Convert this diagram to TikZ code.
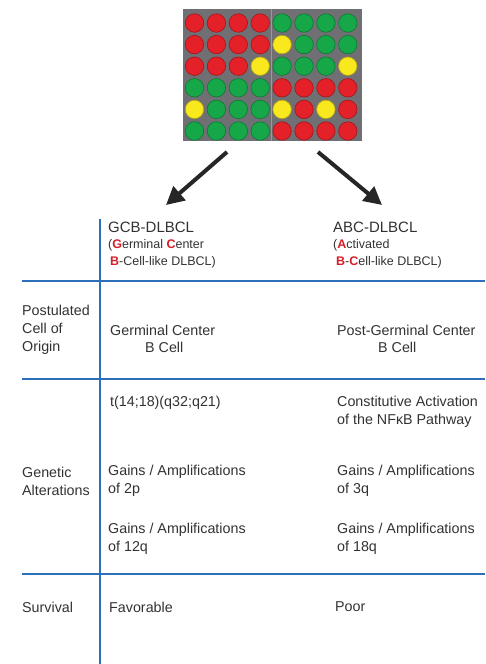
\documentclass[tikz,border=0pt]{standalone}
\usepackage{fontspec}
\setmainfont{Liberation Sans}
\usetikzlibrary{arrows.meta, positioning}

\definecolor{dotred}{RGB}{228,32,40}
\definecolor{dotgreen}{RGB}{22,168,72}
\definecolor{dotyellow}{RGB}{250,232,30}
\definecolor{panelgrey}{RGB}{112,112,116}
\definecolor{divorange}{RGB}{222,140,52}
\definecolor{rulesblue}{RGB}{44,112,186}
\definecolor{textgrey}{RGB}{50,50,50}
\definecolor{letterred}{RGB}{214,30,40}

\newcommand{\redl}[1]{\textcolor{letterred}{\textbf{#1}}}

\begin{document}
\begin{tikzpicture}[
            x=1pt,
            y=-1pt,
            >=Stealth,
            font=\fontsize{14.3}{18}\selectfont,
            text=textgrey
        ]
        \tikzset{
            dot/.style={circle, inner sep=0pt, minimum size=18.5pt, draw=#1!70!black, fill=#1, line width=0.6pt},
            cell/.style={anchor=west, align=left, inner sep=0pt},
            title/.style={cell, font=\fontsize{15}{18}\selectfont},
            sub/.style={cell, font=\fontsize{12.5}{17}\selectfont},
            rule/.style={draw=rulesblue, line width=2pt},
            bigarrow/.style={line width=4pt, draw=black!85, -{Triangle[length=18pt, width=18pt]}}
        }
        \useasboundingbox (0,0) rectangle (485,664);

        % microarray panel
        \fill[panelgrey] (183,9) rectangle (362,141);
        \draw[divorange, line width=1pt] (271,9) -- (271,141);
        \foreach \row [count=\r] in {
            {dotred,dotred,dotred,dotred,dotgreen,dotgreen,dotgreen,dotgreen},
            {dotred,dotred,dotred,dotred,dotyellow,dotgreen,dotgreen,dotgreen},
            {dotred,dotred,dotred,dotyellow,dotgreen,dotgreen,dotgreen,dotyellow},
            {dotgreen,dotgreen,dotgreen,dotgreen,dotred,dotred,dotred,dotred},
            {dotyellow,dotgreen,dotgreen,dotgreen,dotyellow,dotred,dotyellow,dotred},
            {dotgreen,dotgreen,dotgreen,dotgreen,dotred,dotred,dotred,dotred}}
            \foreach \c [count=\k] in \row
                \node[dot=\c] (dot-\r-\k) at ({194.5+(\k-1)*21.9}, {23+(\r-1)*21.6}) {};

        % arrows to the two subtypes
        \coordinate (gcbtail) at (227,152);
        \coordinate (gcbhead) at (166,205);
        \coordinate (abctail) at (318,152);
        \coordinate (abchead) at (382,205);
        \draw[bigarrow] (gcbtail) -- (gcbhead);
        \draw[bigarrow] (abctail) -- (abchead);

        % table rules
        \coordinate (vtop) at (100,219);
        \coordinate (vbot) at (100,664);
        \coordinate (h1l) at (22,281);
        \coordinate (h1r) at (485,281);
        \coordinate (h2l) at (22,379);
        \coordinate (h2r) at (485,379);
        \coordinate (h3l) at (22,574);
        \coordinate (h3r) at (485,574);
        \draw[rule] (h1l) -- (h1r);
        \draw[rule] (h2l) -- (h2r);
        \draw[rule] (h3l) -- (h3r);
        \draw[rule] (vtop) -- (vbot);

        % column heads
        \node[title] (gcb) at (108,227) {GCB-DLBCL};
        \node[sub] (gcbfull) at (108,245) {(\redl{G}erminal \redl{C}enter};
        \node[sub] (gcbfull2) at (110,262) {\redl{B}-Cell-like DLBCL)};
        \node[title] (abc) at (333,227) {ABC-DLBCL};
        \node[sub] (abcfull) at (333,245) {(\redl{A}ctivated};
        \node[sub] (abcfull2) at (336,262) {\redl{B}-\redl{C}ell-like DLBCL)};

        % row heads
        \node[cell] (origin) at (22,330) {Postulated\\Cell of\\Origin};
        \node[cell] (genetic) at (22,481) {Genetic\\Alterations};
        \node[cell] (survival) at (22,607) {Survival};

        % cells
        \node[cell] (gcborigin) at (110,330) {Germinal Center};
        \node[cell] (gcbcell) at (145,347) {B Cell};
        \node[cell] (abcorigin) at (337,330) {Post-Germinal Center};
        \node[cell] (abccell) at (378,347) {B Cell};
        \node[cell] (gcbt) at (110,403) {t(14;18)(q32;q21)};
        \node[cell] (abcnfkb) at (337,412) {Constitutive Activation\\of the NFκB Pathway};
        \node[cell] (gcbgain1) at (108,481) {Gains / Amplifications\\of 2p};
        \node[cell] (abcgain1) at (337,481) {Gains / Amplifications\\of 3q};
        \node[cell] (gcbgain2) at (108,539) {Gains / Amplifications\\of 12q};
        \node[cell] (abcgain2) at (337,539) {Gains / Amplifications\\of 18q};
        \node[cell] (gcbsurv) at (109,607) {Favorable};
        \node[cell] (abcsurv) at (335,607) {Poor};
    \end{tikzpicture}
\end{document}
